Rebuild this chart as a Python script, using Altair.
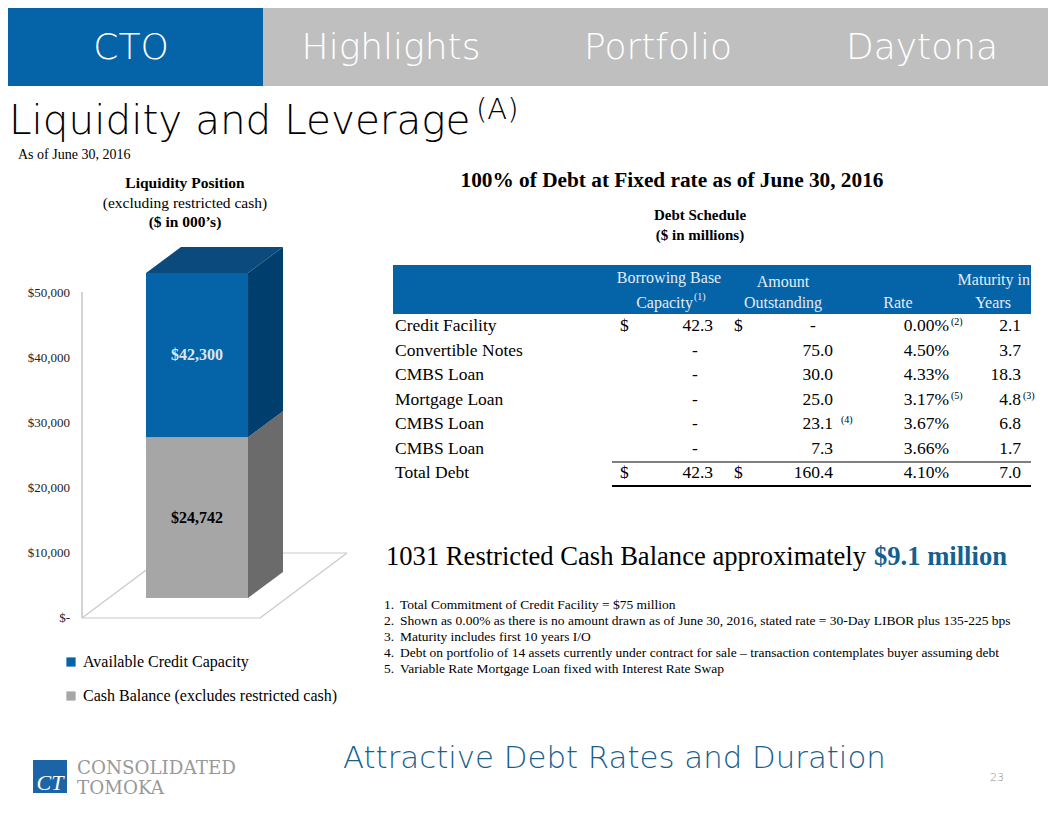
import altair as alt
import pandas as pd

# ---------------- data ----------------
nav_tabs = ["CTO", "Highlights", "Portfolio", "Daytona"]

segments = ["Cash Balance (excludes restricted cash)", "Available Credit Capacity"]
amounts = [24742, 42300]
amount_labels = ["$24,742", "$42,300"]
axis_max = 50000
tick_values = [0, 10000, 20000, 30000, 40000, 50000]
tick_labels = ["$-\u00a0\u00a0", "$10,000", "$20,000", "$30,000", "$40,000", "$50,000"]

loan_names = ["Credit Facility", "Convertible Notes", "CMBS Loan", "Mortgage Loan",
              "CMBS Loan", "CMBS Loan", "Total Debt"]
capacity = [42.3, None, None, None, None, None, 42.3]
outstanding = [None, 75.0, 30.0, 25.0, 23.1, 7.3, 160.4]
rates = [0.00, 4.50, 4.33, 3.17, 3.67, 3.66, 4.10]
maturity = [2.1, 3.7, 18.3, 4.8, 6.8, 1.7, 7.0]
out_notes = ["", "", "", "", "(4)", "", ""]
rate_notes = ["(2)", "", "", "(5)", "", "", ""]
mat_notes = ["", "", "", "(3)", "", "", ""]

footnotes = [
    "Total Commitment  of Credit Facility = $75 million",
    "Shown as 0.00%  as there is no amount drawn as of June 30, 2016,  stated rate = 30-Day  LIBOR  plus 135-225  bps",
    "Maturity includes first 10 years I/O",
    "Debt on portfolio of 14  assets currently under contract for sale \u2013 transaction contemplates buyer assuming debt",
    "Variable  Rate Mortgage Loan fixed  with Interest Rate Swap",
]

# ---------------- layout helpers ----------------
OX, OY = 8, 8
def px(x):
    return min(max(x, 8), 1048) - OX
def py(y):
    return min(max(y, 8), 808) - OY

SERIF = "Liberation Serif"
GOTHIC = "DejaVu Sans"
BLUE = "#0563a7"

def one():
    return pd.DataFrame({"k": [0]})

def text(s, x, y, size, font=SERIF, color="black", weight="normal", align="left",
         baseline="alphabetic", style="normal"):
    return alt.Chart(pd.DataFrame({"t": [s]})).mark_text(
        align=align, baseline=baseline, font=font, fontSize=size,
        fontWeight=weight, color=color, fontStyle=style
    ).encode(x=alt.value(px(x)), y=alt.value(py(y)), text="t:N")

def rect(x1, y1, x2, y2, color):
    return alt.Chart(one()).mark_rect(color=color).encode(
        x=alt.value(px(x1)), x2=alt.value(px(x2)), y=alt.value(py(y1)), y2=alt.value(py(y2)))

def rule(x1, y1, x2, y2, color, width=1.0):
    return alt.Chart(one()).mark_rule(color=color, strokeWidth=width).encode(
        x=alt.value(px(x1)), x2=alt.value(px(x2)), y=alt.value(py(y1)), y2=alt.value(py(y2)))

layers = []

# ---------------- header ----------------
layers.append(rect(0, 0, 263, 86, BLUE))
layers.append(rect(263, 0, 1056, 86, "#bfbfbf"))
for name, cx in zip(nav_tabs, [131, 391, 658, 922]):
    layers.append(text(name, cx, 59, 36, font=GOTHIC, color="white", align="center", weight=300))

layers.append(text("Liquidity and Leverage", 9, 134, 40.5, font=GOTHIC, weight=300))
layers.append(text("(A)", 476, 119, 29, font=GOTHIC, weight=300))
layers.append(text("As of  June 30, 2016", 18, 159, 14))

# ---------------- liquidity chart ----------------
layers.append(text("Liquidity  Position", 185, 188, 15.5, weight="bold", align="center"))
layers.append(text("(excluding  restricted  cash)", 185, 208, 15.5, align="center"))
layers.append(text("($ in  000\u2019s)", 185, 227, 15.5, weight="bold", align="center"))

FLOOR = "#c9c9c9"
layers.append(rule(82, 292, 82, 618, "#c4c4c4", 1.5))
layers.append(rule(82, 618, 260, 618, FLOOR, 1.2))
layers.append(rule(260, 618, 347, 553, FLOOR, 1.2))
layers.append(rule(347, 553, 169, 553, FLOOR, 1.2))
layers.append(rule(169, 553, 82, 618, FLOOR, 1.2))

tick_df = pd.DataFrame({"v": tick_values, "lab": tick_labels})
layers.append(alt.Chart(tick_df).mark_text(
    align="right", baseline="middle", font=SERIF, fontSize=13, color="#222222"
).encode(
    y=alt.Y("v:Q", scale=alt.Scale(domain=[0, axis_max], range=[py(618), py(293)]), axis=None),
    x=alt.value(px(70)),
    text="lab:N",
))

bar = pd.DataFrame({"seg": segments, "v": amounts, "lab": amount_labels})
bar["y1"] = bar["v"].cumsum()
bar["y0"] = bar["y1"] - bar["v"]
bar["y0c"] = bar["y0"].clip(upper=axis_max)
bar["y1c"] = bar["y1"].clip(upper=axis_max)
bar["mid"] = (bar["y0c"] + bar["y1c"]) / 2

DEPTH = 4000      # depth of the 3-D box, in value units (vertical shift)
DX = 35 / 102     # depth of the 3-D box, in bar-width units (horizontal shift)

ys = alt.Scale(domain=[0, axis_max], range=[py(598), py(273)])
xs = alt.Scale(domain=[0, 1], range=[px(146), px(248)])

side_rows = []
for _, r in bar.iterrows():
    for d in (0, 1):
        side_rows.append({"seg": r["seg"], "u": 1 + d * DX,
                          "lo": r["y0c"] + d * DEPTH, "hi": r["y1c"] + d * DEPTH})
side = pd.DataFrame(side_rows)

T = bar["y1c"].iloc[-1]
top = pd.DataFrame({"u": [0, DX, 1, 1 + DX],
                    "lo": [T, T, T, T + DEPTH],
                    "hi": [T, T + DEPTH, T + DEPTH, T + DEPTH]})

legend_order = list(reversed(segments))
front_colors = {segments[0]: "#a6a6a6", segments[1]: "#0563a7"}
side_colors = {segments[0]: "#6b6b6b", segments[1]: "#003f6d"}
label_colors = {segments[0]: "#000000", segments[1]: "#dbe7f3"}

layers.append(alt.Chart(side).mark_area(orient="vertical", opacity=1).encode(
    x=alt.X("u:Q", scale=xs, axis=None),
    y=alt.Y("lo:Q", scale=ys, axis=None, stack=None),
    y2="hi:Q",
    color=alt.Color("seg:N", scale=alt.Scale(domain=segments, range=[side_colors[s] for s in segments]), legend=None),
))
layers.append(alt.Chart(top).mark_area(orient="vertical", color="#0a4a7c", opacity=1).encode(
    x=alt.X("u:Q", scale=xs, axis=None),
    y=alt.Y("lo:Q", scale=ys, axis=None, stack=None),
    y2="hi:Q",
))
layers.append(alt.Chart(bar).transform_calculate(u0="0", u1="1").mark_rect(opacity=1).encode(
    x=alt.X("u0:Q", scale=xs, axis=None),
    x2="u1:Q",
    y=alt.Y("y0c:Q", scale=ys, axis=None),
    y2="y1c:Q",
    color=alt.Color("seg:N",
                    scale=alt.Scale(domain=legend_order, range=[front_colors[s] for s in legend_order]),
                    legend=alt.Legend(orient="none", legendX=px(63), legendY=py(654), title=None,
                                      symbolType="square", symbolSize=85, symbolStrokeWidth=0,
                                      labelFont=SERIF, labelFontSize=16, labelColor="black",
                                      labelLimit=500, rowPadding=18, padding=0, labelOffset=4)),
))
layers.append(alt.Chart(bar).transform_calculate(uc="0.5").mark_text(
    font=SERIF, fontSize=16, fontWeight="bold", baseline="middle", align="center"
).encode(
    x=alt.X("uc:Q", scale=xs, axis=None),
    y=alt.Y("mid:Q", scale=ys, axis=None),
    text="lab:N",
    color=alt.Color("seg:N", scale=alt.Scale(domain=segments, range=[label_colors[s] for s in segments]), legend=None),
))

# ---------------- debt schedule ----------------
layers.append(text("100% of Debt at Fixed rate  as of June 30, 2016", 672, 187, 21.3, weight="bold", align="center"))
layers.append(text("Debt Schedule", 700, 220, 15, weight="bold", align="center"))
layers.append(text("($ in  millions)", 700, 240, 15, weight="bold", align="center"))

layers.append(rect(393, 265, 1031, 314, BLUE))
HC = "#e3ecf5"
layers.append(text("Borrowing Base", 669, 283, 16, color=HC, align="center"))
layers.append(text("Capacity", 693, 308, 16, color=HC, align="right"))
layers.append(text("(1)", 694, 300, 10, color=HC))
layers.append(text("Amount", 783, 287, 16, color=HC, align="center"))
layers.append(text("Outstanding", 783, 308, 16, color=HC, align="center"))
layers.append(text("Rate", 898, 308, 16, color=HC, align="center"))
layers.append(text("Maturity in", 1030, 285, 16, color=HC, align="right"))
layers.append(text("Years", 993, 308, 16, color=HC, align="center"))

tbl = pd.DataFrame({"r": list(range(len(loan_names))), "name": loan_names, "cap": capacity,
                    "out": outstanding, "rate": rates, "mat": maturity,
                    "on": out_notes, "rn": rate_notes, "mn": mat_notes})
ry = alt.Y("r:Q", scale=alt.Scale(domain=[0, len(loan_names) - 1], range=[py(326), py(473)]), axis=None)
last = len(loan_names) - 1

def col(x, field, align, fmt_expr=None, flt=None, size=17.5, dy=0):
    ch = alt.Chart(tbl)
    if flt:
        ch = ch.transform_filter(flt)
    if fmt_expr:
        ch = ch.transform_calculate(s=fmt_expr)
        field = "s"
    return ch.mark_text(align=align, baseline="middle", font=SERIF, fontSize=size, color="black", dy=dy).encode(
        x=alt.value(px(x)), y=ry, text=f"{field}:N")

layers.append(col(395, "name", "left"))
layers.append(col(620, "d", "left", fmt_expr="'$'", flt=f"datum.r == 0 || datum.r == {last}"))
layers.append(col(734, "d", "left", fmt_expr="'$'", flt=f"datum.r == 0 || datum.r == {last}"))
layers.append(col(713, "cap", "right", fmt_expr="format(datum.cap, '.1f')", flt="isValid(datum.cap)"))
layers.append(col(695, "cap", "center", fmt_expr="'-'", flt="!isValid(datum.cap)"))
layers.append(col(833, "out", "right", fmt_expr="format(datum.out, '.1f')", flt="isValid(datum.out)"))
layers.append(col(813, "out", "center", fmt_expr="'-'", flt="!isValid(datum.out)"))
layers.append(col(949, "rate", "right", fmt_expr="format(datum.rate, '.2f') + '%'"))
layers.append(col(1021, "mat", "right", fmt_expr="format(datum.mat, '.1f')"))
layers.append(col(841, "on", "left", flt="datum.on != ''", size=10, dy=-4))
layers.append(col(951, "rn", "left", flt="datum.rn != ''", size=10, dy=-4))
layers.append(col(1023, "mn", "left", flt="datum.mn != ''", size=10, dy=-4))

layers.append(rule(612, 462, 1031, 462, "black", 1.2))
layers.append(rule(612, 486, 1031, 486, "black", 2.2))

# ---------------- restricted cash + footnotes ----------------
layers.append(text("1031 Restricted Cash Balance approximately", 386, 565, 26.6))
layers.append(text("$9.1 million", 874, 565, 26.6, weight="bold", color="#14608f"))
for i, note in enumerate(footnotes):
    yy = 609 + i * 16
    layers.append(text(f"{i + 1}.", 384, yy, 13.5))
    layers.append(text(note, 400, yy, 13.5))

# ---------------- footer ----------------
layers.append(text("Attractive Debt Rates and Duration", 343, 768, 30.8, font=GOTHIC, color="#1a5f8c", weight=300))
layers.append(text("23", 990, 781, 11, font=GOTHIC, color="#8a8a8a", weight=300))
layers.append(rect(33, 760, 67, 793, "#1c64a8"))
layers.append(text("CT", 50, 790, 22, color="white", align="center", style="italic"))
layers.append(text("CONSOLIDATED", 77, 774, 18.3, font="DejaVu Serif", color="#999999", weight=300))
layers.append(text("TOMOKA", 77, 794, 18.3, font="DejaVu Serif", color="#999999", weight=300))

chart = alt.layer(*layers).resolve_scale(
    x="independent", y="independent", color="independent"
).properties(
    width=1040, height=800,
    autosize=alt.AutoSizeParams(type="fit", contains="padding"),
    padding=0,
).configure_view(stroke=None)

chart.save("out.html", embed_options={"renderer": "svg", "actions": False})
